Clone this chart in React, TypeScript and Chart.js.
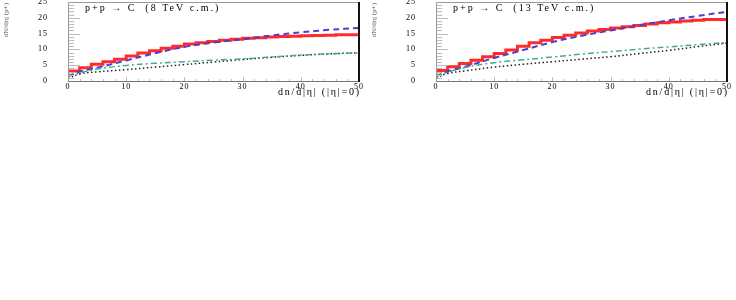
import React, { useEffect, useRef } from "react";
import { Chart, registerables } from "chart.js";

Chart.register(...registerables);

// histogram bin lower edges (width 2) + closing edge
const binEdges = [0, 2, 4, 6, 8, 10, 12, 14, 16, 18, 20, 22, 24, 26, 28, 30, 32, 34, 36, 38, 40, 42, 44, 46, 48, 50];
const red8 = [1.3, 3.2, 4.2, 5.3, 6.1, 6.9, 7.9, 8.9, 9.6, 10.4, 11.0, 11.7, 12.1, 12.5, 12.9, 13.2, 13.5, 13.7, 13.9, 14.1, 14.2, 14.3, 14.4, 14.5, 14.6, 14.6];
const red13 = [1.3, 3.3, 4.5, 5.5, 6.6, 7.7, 8.7, 9.8, 11.0, 12.1, 12.9, 13.8, 14.5, 15.2, 15.8, 16.3, 16.8, 17.2, 17.6, 18.0, 18.4, 18.7, 19.0, 19.2, 19.5, 19.5];

const curveX = [0, 2, 5, 10, 15, 20, 25, 30, 35, 40, 45, 50];
const blue8 = [1.5, 3.0, 4.2, 6.5, 8.8, 10.8, 12.2, 13.2, 14.4, 15.4, 16.2, 16.8];
const green8 = [1.5, 2.5, 3.8, 4.9, 5.6, 6.1, 6.6, 7.0, 7.6, 8.2, 8.6, 8.9];
const black8 = [0.8, 2.2, 2.9, 3.6, 4.4, 5.2, 6.0, 6.8, 7.5, 8.1, 8.6, 8.9];
const blue13 = [1.5, 3.0, 4.5, 7.3, 9.8, 12.3, 14.3, 16.0, 17.7, 19.2, 20.6, 21.9];
const green13 = [1.5, 2.8, 4.3, 5.8, 6.7, 7.6, 8.5, 9.3, 10.1, 10.8, 11.5, 12.2];
const black13 = [1.0, 2.4, 3.2, 4.4, 5.3, 6.1, 6.9, 7.7, 8.7, 9.7, 10.9, 12.0];

const xTicks = [0, 10, 20, 30, 40, 50];
const yTicks = [0, 5, 10, 15, 20, 25];
const titles = ["p+p \u2192 C  (8 TeV c.m.)", "p+p \u2192 C  (13 TeV c.m.)"];
const xTitle = "dn/d|\u03b7| (|\u03b7|=0)";
const yTitle = "dN/d|\u03b7| (p+)";

const FONT = "'Liberation Serif', 'DejaVu Serif', serif";

function pts(xs: number[], ys: number[]) {
  return xs.map((x, i) => ({ x, y: ys[i] }));
}

function Panel({ red, blue, green, black, title }: any) {
  const ref = useRef<HTMLCanvasElement>(null);
  useEffect(() => {
    const deco = {
      id: "deco",
      beforeDraw(chart: any) {
        chart.ctx.letterSpacing = "1px";
      },
      afterDraw(chart: any) {
        const ctx = chart.ctx;
        const a = chart.chartArea;
        const xs = chart.scales.x;
        const ys = chart.scales.y;
        ctx.save();
        // inside ticks y
        ctx.strokeStyle = "#bdbdbd";
        ctx.lineWidth = 1;
        for (let v = 0; v <= 25; v += 1) {
          const py = Math.round(ys.getPixelForValue(v)) + 0.5;
          const len = v % 5 === 0 ? 12 : 6;
          ctx.beginPath();
          ctx.moveTo(a.left, py);
          ctx.lineTo(a.left + len, py);
          ctx.stroke();
        }
        for (let v = 0; v <= 50; v += 2) {
          const px = Math.round(xs.getPixelForValue(v)) + 0.5;
          const len = v % 10 === 0 ? 4 : 2;
          ctx.beginPath();
          ctx.moveTo(px, a.bottom);
          ctx.lineTo(px, a.bottom - len);
          ctx.stroke();
        }
        // frame
        ctx.strokeStyle = "#999";
        ctx.beginPath();
        ctx.moveTo(a.left + 0.5, a.bottom);
        ctx.lineTo(a.left + 0.5, a.top + 0.5);
        ctx.lineTo(a.right, a.top + 0.5);
        ctx.stroke();
        ctx.strokeStyle = "#777";
        ctx.beginPath();
        ctx.moveTo(a.left, a.bottom + 0.5);
        ctx.lineTo(a.right, a.bottom + 0.5);
        ctx.stroke();
        ctx.strokeStyle = "#111";
        ctx.lineWidth = 2;
        ctx.beginPath();
        ctx.moveTo(a.right, a.top);
        ctx.lineTo(a.right, a.bottom + 1);
        ctx.stroke();
        // texts
        ctx.fillStyle = "#000";
        ctx.letterSpacing = "2px";
        ctx.font = `10px ${FONT}`;
        ctx.textBaseline = "middle";
        ctx.textAlign = "left";
        ctx.fillText(title, a.left + 17, a.top + 6);
        ctx.textAlign = "right";
        ctx.letterSpacing = "1.8px";
        ctx.fillText(xTitle, a.right + 2, 92);
        ctx.translate(6, 3);
        ctx.rotate(-Math.PI / 2);
        ctx.letterSpacing = "0px";
        ctx.font = `7px ${FONT}`;
        ctx.fillStyle = "#555";
        ctx.textAlign = "right";
        ctx.fillText(yTitle, 0, 0);
        ctx.restore();
      },
    };
    const chart = new Chart(ref.current!, {
      type: "line",
      data: {
        datasets: [
          { data: pts(curveX, green), borderColor: "#3fae8e", borderWidth: 1.5, borderDash: [6, 3, 2, 3], pointRadius: 0, tension: 0.4 },
          { data: pts(curveX, black), borderColor: "#222", borderWidth: 1.5, borderDash: [1.5, 2.5], pointRadius: 0, tension: 0.4 },
          { data: pts(curveX, blue), borderColor: "#4a3fd0", borderWidth: 2, borderDash: [6, 4], pointRadius: 0, tension: 0.4 },
          { data: pts(binEdges, red), borderColor: "rgba(255,20,20,0.9)", borderWidth: 3, stepped: "after", pointRadius: 0 },
        ],
      },
      options: {
        animation: false,
        responsive: false,
        events: [],
        layout: { autoPadding: false, padding: { top: 2, right: 9, left: 0, bottom: 0 } },
        plugins: { legend: { display: false }, tooltip: { enabled: false } },
        scales: {
          x: {
            type: "linear",
            min: 0,
            max: 50,
            border: { display: false },
            grid: { display: false, drawTicks: false },
            afterFit: (s: any) => { s.height = 19; s.paddingLeft = 0; s.paddingRight = 0; },
            afterBuildTicks: (s: any) => { s.ticks = xTicks.map((v) => ({ value: v })); },
            ticks: { color: "#000", font: { family: FONT, size: 8 }, padding: 1, maxRotation: 0 },
          },
          y: {
            min: 0,
            max: 25,
            border: { display: false },
            grid: { display: false, drawTicks: false },
            afterFit: (s: any) => { s.width = 68; s.paddingTop = 0; s.paddingBottom = 0; },
            afterBuildTicks: (s: any) => { s.ticks = yTicks.map((v) => ({ value: v })); },
            ticks: { color: "#000", font: { family: FONT, size: 8 }, padding: 20 },
          },
        },
      },
      plugins: [deco],
    });
    return () => chart.destroy();
  }, []);
  return <canvas ref={ref} width={368} height={100} style={{ display: "block" }} />;
}

export default function App() {
  return (
    <div style={{ position: "absolute", left: 0, top: 0, width: 736, height: 300, background: "#fff", display: "flex" }}>
      <Panel red={red8} blue={blue8} green={green8} black={black8} title={titles[0]} />
      <Panel red={red13} blue={blue13} green={green13} black={black13} title={titles[1]} />
    </div>
  );
}
